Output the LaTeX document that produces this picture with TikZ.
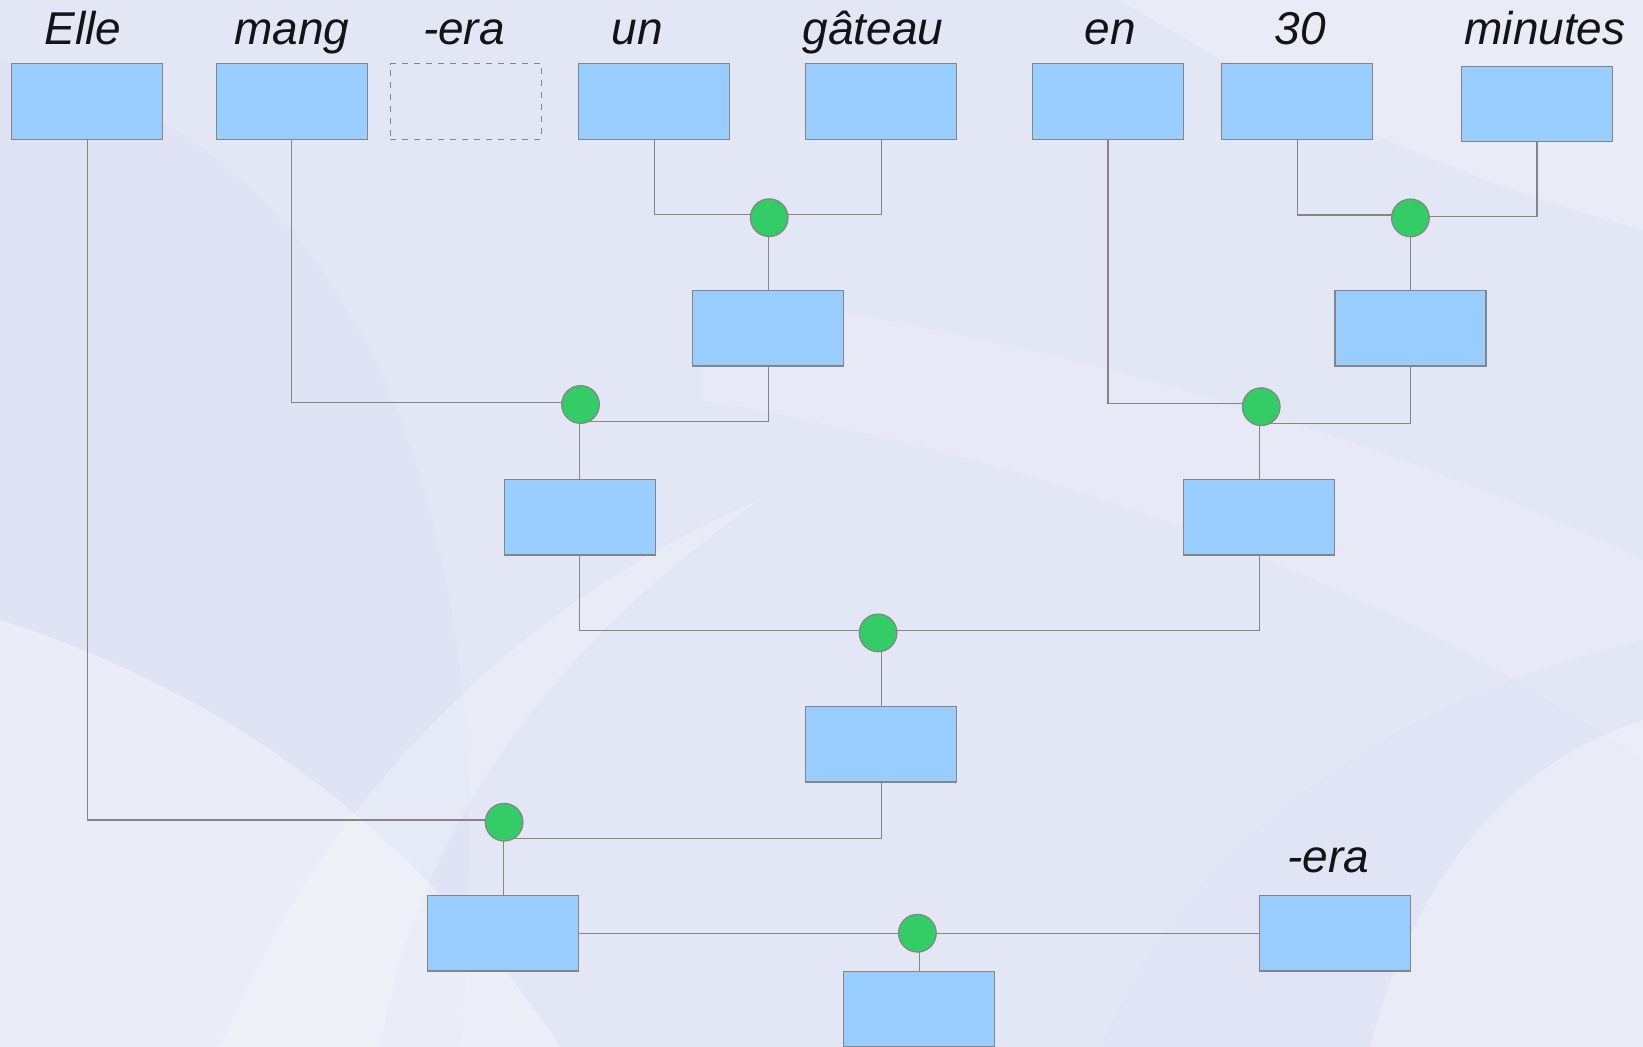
\documentclass[tikz,border=0pt]{standalone}
\usepackage{fontspec}
\setmainfont{Liberation Sans}
\pgfdeclarelayer{bg}
\pgfdeclarelayer{lines}
\pgfsetlayers{bg,lines,main}
\definecolor{boxfill}{HTML}{99CCFF}
\definecolor{dotfill}{HTML}{33CC66}
\definecolor{edge}{HTML}{858585}
\definecolor{bgbase}{HTML}{E3E7F5}
\definecolor{bgdark}{HTML}{D6DCF2}
\begin{document}
\begin{tikzpicture}[x=0.5pt,y=-0.5pt,
  cat/.style={draw=edge,line width=0.6pt,fill=boxfill,minimum width=75.5pt,minimum height=37.75pt,inner sep=0pt,outer sep=0pt},
  ghost/.style={draw=edge,dashed,line width=0.5pt,minimum width=75.5pt,minimum height=37.75pt,inner sep=0pt,outer sep=0pt},
  merge/.style={circle,draw=edge,line width=0.6pt,fill=dotfill,minimum size=18.85pt,inner sep=0pt,outer sep=0pt},
  word/.style={font=\fontsize{23}{27}\selectfont\itshape,anchor=base,inner sep=0pt,text=black!92},
  link/.style={draw=edge,line width=0.6pt}]
\useasboundingbox (0,0) rectangle (1643,1047);
\begin{pgfonlayer}{bg}
\fill[bgbase] (0,0) rectangle (1643,1047);
\fill[bgdark,opacity=0.3] (0,60) .. controls (300,120) and (520,420) .. (460,1047) -- (0,1047) -- cycle;
\fill[white,opacity=0.22] (1120,0) .. controls (1330,130) and (1500,190) .. (1643,230) -- (1643,0) -- cycle;
\fill[white,opacity=0.15] (700,290) .. controls (1000,330) and (1350,420) .. (1643,560) -- (1643,760) .. controls (1350,560) and (1000,450) .. (700,400) -- cycle;
\fill[white,opacity=0.35] (0,620) .. controls (250,700) and (430,850) .. (560,1047) -- (0,1047) -- cycle;
\fill[white,opacity=0.22] (220,1047) .. controls (320,800) and (520,600) .. (760,500) .. controls (560,640) and (420,820) .. (380,1047) -- cycle;
\fill[bgdark,opacity=0.2] (1100,1047) .. controls (1200,820) and (1400,700) .. (1643,640) -- (1643,1047) -- cycle;
\fill[white,opacity=0.3] (1370,1047) .. controls (1420,860) and (1520,760) .. (1643,720) -- (1643,1047) -- cycle;
\end{pgfonlayer}

% top row
\node[cat] (elle) at (87.3,101.4) {};
\node[cat] (mang) at (291.6,101.4) {};
\node[ghost] (era0) at (465.7,101.4) {};
\node[cat] (un) at (654.3,101.4) {};
\node[cat] (gat) at (881.1,101.4) {};
\node[cat] (en) at (1108,101.4) {};
\node[cat] (thirty) at (1297.2,101.4) {};
\node[cat] (min) at (1537,104) {};

\node[word] (welle) at (83,44.5) {Elle};
\node[word] (wmang) at (292,44.5) {mang};
\node[word] (wera) at (464,44.5) {-era};
\node[word] (wun) at (637,44.5) {un};
\node[word] (wgat) at (873,44.5) {gâteau};
\node[word] (wen) at (1110,44.5) {en};
\node[word] (wthirty) at (1300,44.5) {30};
\node[word] (wmin) at (1545,44.5) {minutes};

% junctions
\node[merge] (J1) at (769.2,217.7) {};
\node[merge] (J2) at (1410.4,217.9) {};
\node[merge] (J3) at (580.5,404.5) {};
\node[merge] (J4) at (1261.2,406.7) {};
\node[merge] (J5) at (878.1,632.9) {};
\node[merge] (J6) at (504.1,822.2) {};
\node[merge] (J7) at (917.4,933.2) {};

% inner boxes
\node[cat] (r2a) at (768.1,328.3) {};
\node[cat] (r2b) at (1410.4,328.3) {};
\node[cat] (r3l) at (579.6,517.3) {};
\node[cat] (r3r) at (1259.3,517.3) {};
\node[cat] (r4) at (881.3,744.2) {};
\node[cat] (b5l) at (503.2,933.2) {};
\node[cat] (b5r) at (1335,933.2) {};
\node[word] (wera2) at (1328.3,872.7) {-era};
\node[cat] (bot) at (919.1,1009) {};

\begin{pgfonlayer}{lines}
% un + gateau
\draw[link] (un.south) |- (J1.171);
\draw[link] (gat.south) |- (J1.9);
\draw[link] (r2a.north) -- (r2a.north |- J1.center);
% 30 + minutes
\draw[link] (thirty.south) |- (J2.171);
\draw[link] (min.south) |- (J2.5);
\draw[link] (r2b.north) -- (r2b.north |- J2.center);
% mang + r2a
\draw[link] (mang.south) |- (J3.175);
\draw[link] (r2a.south) |- (J3.-62);
\draw[link] (r3l.north) -- (r3l.north |- J3.center);
% en + r2b
\draw[link] (en.south) |- (J4.171);
\draw[link] (r2b.south) |- (J4.-62);
\draw[link] (r3r.north) -- (r3r.north |- J4.center);
% r3l + r3r
\draw[link] (r3l.south) |- (J5.172);
\draw[link] (r3r.south) |- (J5.8);
\draw[link] (r4.north) -- (r4.north |- J5.center);
% Elle + r4
\draw[link] (elle.south) |- (J6.173);
\draw[link] (r4.south) |- (J6.-62);
\draw[link] (b5l.north) -- (b5l.north |- J6.center);
% b5l + era
\draw[link] (b5l.east) -- (J7.west);
\draw[link] (J7.east) -- (b5r.west);
\draw[link] (bot.north) -- (bot.north |- J7.center);
\end{pgfonlayer}
\end{tikzpicture}
\end{document}
